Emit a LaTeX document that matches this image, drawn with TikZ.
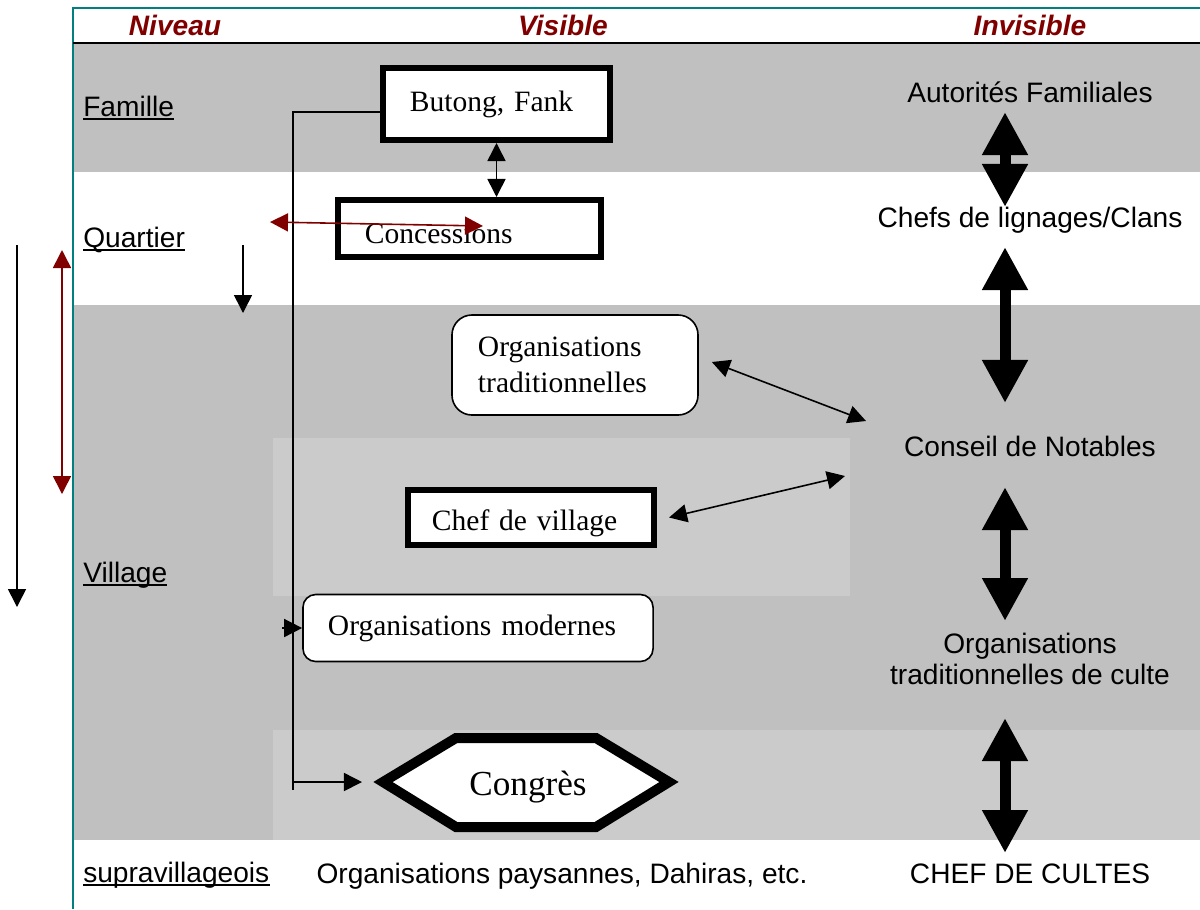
\documentclass[tikz,border=0pt]{standalone}
\usepackage{fontspec}
\setmainfont{Liberation Serif}
\setsansfont{Liberation Sans}
\usetikzlibrary{arrows.meta}

\definecolor{headred}{HTML}{800000}
\definecolor{framecol}{HTML}{008080}
\definecolor{bandgray}{HTML}{C0C0C0}
\definecolor{lightband}{HTML}{CBCBCB}

\tikzset{
    sanstext/.style={font=\sffamily\fontsize{20}{22}\selectfont},
    headtext/.style={font=\sffamily\bfseries\itshape\fontsize{20}{22}\selectfont, text=headred},
    levellabel/.style={sanstext, anchor=base west, inner xsep=0pt},
    thickbox/.style={draw, line width=0.15cm, fill=white, align=left, inner ysep=0pt,
        font=\fontsize{21}{26}\selectfont},
    roundbox/.style={draw, line width=0.04cm, fill=white, align=left, inner ysep=0pt,
        font=\fontsize{21}{26}\selectfont},
    conn/.style={line width=0.04cm},
    smalltip/.style={-{Triangle[width=0.45cm,length=0.45cm]}},
    smallboth/.style={{Triangle[width=0.45cm,length=0.45cm]}-{Triangle[width=0.45cm,length=0.45cm]}},
    bigarrow/.style={line width=0.275cm,
        {Triangle[width=1.075cm,length=1.075cm]}-{Triangle[width=1.075cm,length=1.075cm]}}
}

\begin{document}
\begin{tikzpicture}[x=0.025cm, y=-0.025cm]
    \useasboundingbox (0,0) rectangle (1200,909);

    % Background bands
    \fill[bandgray] (73,43) rectangle (1200,172);
    \fill[bandgray] (73,305) rectangle (1200,840);
    \fill[lightband] (273,438) rectangle (850,596);
    \fill[lightband] (273,730) rectangle (1200,840);

    % Frame and header line
    \draw[framecol, line width=0.06cm] (73,909) -- (73,8) -- (1200,8);
    \draw[line width=0.05cm] (73,43) -- (1200,43);

    % Headers
    \node[headtext, anchor=base] (hniveau) at (175,35) {Niveau};
    \node[headtext, anchor=base] (hvisible) at (563,35) {Visible};
    \node[headtext, anchor=base] (hinvisible) at (1030,35) {Invisible};

    % Level labels (underlined)
    \foreach \y/\txt in {116/Famille, 247/Quartier, 582/Village, 882/supravillageois} {
        \node[levellabel] (lab\txt) at (83,\y) {\txt};
        \draw[line width=0.045cm] ([yshift=-0.07cm]lab\txt.base west) -- ([yshift=-0.07cm]lab\txt.base east);
    };

    % Left side arrows
    \coordinate (blackT) at (17,245);
    \coordinate (blackB) at (17,607);
    \coordinate (redT) at (62,250);
    \coordinate (redB) at (62,494);
    \coordinate (downT) at (243,245);
    \coordinate (downB) at (243,313);
    \draw[conn, smalltip] (blackT) -- (blackB);
    \draw[conn, headred, smallboth] (redT) -- (redB);
    \draw[conn, smalltip] (downT) -- (downB);

    % Visible column boxes
    \node[thickbox, minimum height=1.8cm, text width=4.325cm, inner xsep=0.675cm] (butong) at (496.5,104) {Butong, Fank};
    \node[thickbox, minimum height=1.425cm, text width=5.225cm, inner xsep=0.675cm,
        text height=0.725cm, text depth=0cm] (concessions) at (469.5,228.5) {Concessions};
    \node[roundbox, rounded corners=0.5cm, minimum height=2.5cm, text width=4.85cm, inner xsep=0.65cm] (orgtrad) at (575,365) {Organisations\\traditionnelles};
    \node[thickbox, minimum height=1.375cm, text width=4.95cm, inner xsep=0.6cm,
        text height=0.785cm, text depth=0.16cm] (chef) at (531,517.5) {Chef de village};
    \node[roundbox, rounded corners=0.32cm, minimum height=1.675cm, text width=7.5cm, inner xsep=0.625cm] (orgmod) at (478,628) {Organisations modernes};

    % Congres hexagon
    \coordinate (hexL) at (383,782);
    \draw[line width=0.25cm, fill=white, line join=miter] (hexL) -- (456,738) -- (596,738)
        -- (669,782) -- (596,827) -- (456,827) -- cycle;
    \node[font=\fontsize{25}{30}\selectfont, anchor=base] (congres) at (528,795) {Congrès};

    % Links between visible boxes
    \coordinate (trunkend) at (293,790);
    \draw[conn] ([yshift=-0.2cm]butong.west) -| (trunkend);
    \draw[conn, smalltip, shorten >=0.525cm] (trunkend |- hexL) -- (hexL);
    \draw[conn, smalltip] ([xshift=-0.5cm]orgmod.west) -- (orgmod.west);
    \draw[conn, smallboth] (butong.south) -- (butong.south |- concessions.north);

    \coordinate (redL) at (270,222);
    \coordinate (redR) at (483,226);
    \draw[conn, headred, smallboth] (redL) -- (redR);

    % Invisible column
    \node[sanstext, anchor=base] (autorites) at (1030,102) {Autorités Familiales};
    \node[sanstext, anchor=base] (lignages) at (1030,227) {Chefs de lignages/Clans};
    \node[sanstext, anchor=base] (conseil) at (1030,456) {Conseil de Notables};
    \node[sanstext, align=center] (cultes) at (1030,659) {Organisations\\traditionnelles de culte};
    \node[sanstext, anchor=base] (chefcultes) at (1030,883) {CHEF DE CULTES};
    \node[sanstext, anchor=base] (paysannes) at (562,883) {Organisations paysannes, Dahiras, etc.};

    % Big arrows between levels
    \foreach \i/\ya/\yb in {1/112/207, 2/247/403, 3/487/621, 4/718/853} {
        \coordinate (up\i) at (1005,\ya);
        \coordinate (dn\i) at (1005,\yb);
        \draw[bigarrow] (up\i) -- (dn\i);
    };

    % Links to the Conseil de Notables
    \coordinate (notA) at (866,421);
    \coordinate (notB) at (845,476);
    \draw[conn, smallboth] ([xshift=0.325cm,yshift=0.075cm]orgtrad.east) -- (notA);
    \draw[conn, smallboth] ([xshift=0.3cm]chef.east) -- (notB);
\end{tikzpicture}
\end{document}
